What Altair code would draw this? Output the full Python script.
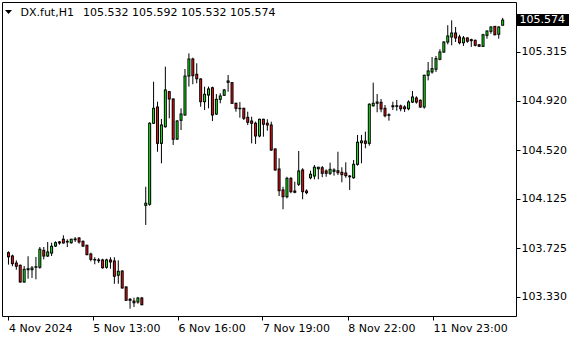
import altair as alt
import pandas as pd

# ---- candle data (H1 bars) ----
opens = [103.687, 103.660, 103.603, 103.585, 103.449, 103.549, 103.549, 103.569, 103.569, 103.706,
         103.660, 103.684, 103.741, 103.766, 103.796, 103.774, 103.768, 103.792, 103.806, 103.779,
         103.747, 103.676, 103.632, 103.628, 103.628, 103.569, 103.628, 103.620, 103.504, 103.538,
         103.409, 103.309, 103.295, 103.287, 103.319, 104.071, 104.080, 104.737, 104.869, 104.574,
         104.709, 104.993, 104.934, 104.609, 104.761, 104.804, 105.120, 105.258, 105.134, 105.096,
         104.912, 104.966, 105.025, 104.812, 104.931, 104.964, 105.069, 105.066, 104.899, 104.858,
         104.858, 104.785, 104.755, 104.737, 104.634, 104.769, 104.737, 104.723, 104.528, 104.366,
         104.196, 104.141, 104.290, 104.187, 104.242, 104.358, 104.187, 104.295, 104.309, 104.368,
         104.376, 104.350, 104.331, 104.347, 104.352, 104.339, 104.333, 104.309, 104.295, 104.404,
         104.579, 104.593, 104.574, 104.879, 104.899, 104.907, 104.858, 104.806, 104.871, 104.874,
         104.877, 104.869, 104.855, 104.909, 104.942, 104.923, 104.869, 105.126, 105.153, 105.175,
         105.256, 105.315, 105.396, 105.437, 105.469, 105.437, 105.390, 105.429, 105.407, 105.410,
         105.374, 105.361, 105.450, 105.483, 105.523, 105.459, 105.532]
highs = [103.698, 103.671, 103.625, 103.590, 103.579, 103.658, 103.579, 103.652, 103.733, 103.733,
         103.774, 103.768, 103.779, 103.782, 103.828, 103.796, 103.800, 103.814, 103.814, 103.787,
         103.752, 103.687, 103.650, 103.644, 103.638, 103.638, 103.650, 103.650, 103.625, 103.544,
         103.414, 103.319, 103.322, 103.328, 103.328, 104.222, 104.745, 105.074, 104.912, 104.772,
         105.196, 104.999, 104.939, 104.763, 104.858, 105.177, 105.304, 105.269, 105.223, 105.102,
         105.034, 105.034, 105.034, 104.974, 104.980, 105.015, 105.128, 105.072, 104.904, 104.909,
         104.863, 104.831, 104.790, 104.750, 104.774, 104.774, 104.769, 104.750, 104.534, 104.453,
         104.222, 104.303, 104.299, 104.263, 104.512, 104.372, 104.201, 104.352, 104.398, 104.384,
         104.390, 104.363, 104.417, 104.372, 104.506, 104.380, 104.420, 104.317, 104.439, 104.642,
         104.642, 104.669, 104.899, 105.066, 104.974, 104.934, 104.885, 104.818, 104.912, 104.926,
         104.888, 104.883, 104.923, 104.999, 104.956, 104.931, 105.131, 105.234, 105.274, 105.283,
         105.337, 105.402, 105.532, 105.572, 105.518, 105.455, 105.445, 105.434, 105.423, 105.415,
         105.380, 105.463, 105.491, 105.523, 105.526, 105.523, 105.592]
lows = [103.590, 103.577, 103.549, 103.444, 103.444, 103.476, 103.482, 103.471, 103.557, 103.633,
        103.652, 103.660, 103.733, 103.752, 103.760, 103.733, 103.760, 103.774, 103.760, 103.733,
        103.666, 103.617, 103.593, 103.603, 103.557, 103.557, 103.557, 103.435, 103.435, 103.395,
        103.295, 103.233, 103.246, 103.273, 103.260, 103.912, 104.068, 104.731, 104.506, 104.412,
        104.701, 104.777, 104.561, 104.601, 104.682, 104.798, 105.034, 105.053, 105.061, 104.871,
        104.844, 104.858, 104.755, 104.804, 104.899, 104.958, 104.993, 104.893, 104.831, 104.782,
        104.763, 104.723, 104.574, 104.569, 104.623, 104.628, 104.677, 104.512, 104.352, 104.147,
        104.039, 104.128, 104.169, 104.169, 104.228, 104.120, 104.161, 104.282, 104.282, 104.282,
        104.299, 104.303, 104.317, 104.312, 104.317, 104.258, 104.295, 104.196, 104.287, 104.393,
        104.412, 104.534, 104.555, 104.871, 104.826, 104.826, 104.785, 104.758, 104.844, 104.839,
        104.834, 104.828, 104.842, 104.901, 104.896, 104.861, 104.855, 105.085, 105.139, 105.153,
        105.248, 105.307, 105.377, 105.369, 105.396, 105.377, 105.364, 105.390, 105.356, 105.361,
        105.356, 105.356, 105.423, 105.463, 105.450, 105.423, 105.532]
closes = [103.654, 103.598, 103.577, 103.449, 103.552, 103.557, 103.563, 103.573, 103.715, 103.660,
          103.693, 103.739, 103.768, 103.774, 103.766, 103.779, 103.796, 103.798, 103.774, 103.741,
          103.671, 103.633, 103.628, 103.622, 103.565, 103.628, 103.612, 103.496, 103.536, 103.401,
          103.301, 103.301, 103.281, 103.319, 103.265, 104.088, 104.737, 104.858, 104.574, 104.723,
          105.007, 104.934, 104.607, 104.755, 104.812, 105.120, 105.258, 105.123, 105.098, 104.912,
          104.972, 105.015, 104.804, 104.931, 104.958, 105.007, 105.080, 104.899, 104.858, 104.855,
          104.777, 104.745, 104.737, 104.634, 104.769, 104.729, 104.723, 104.520, 104.358, 104.190,
          104.141, 104.290, 104.182, 104.177, 104.350, 104.182, 104.174, 104.323, 104.380, 104.380,
          104.331, 104.331, 104.363, 104.358, 104.336, 104.320, 104.312, 104.303, 104.404, 104.583,
          104.593, 104.574, 104.891, 104.899, 104.909, 104.853, 104.798, 104.801, 104.879, 104.879,
          104.855, 104.855, 104.909, 104.950, 104.909, 104.869, 105.126, 105.161, 105.180, 105.261,
          105.315, 105.396, 105.445, 105.469, 105.429, 105.390, 105.429, 105.402, 105.415, 105.369,
          105.361, 105.455, 105.485, 105.518, 105.455, 105.518, 105.574]

tick_bars = [0, 21.5, 43.25, 64.75, 86.5, 108.25]
tick_labels = ["4 Nov 2024", "5 Nov 13:00", "6 Nov 16:00", "7 Nov 19:00", "8 Nov 22:00", "11 Nov 23:00"]
price_ticks = [103.330, 103.725, 104.125, 104.520, 104.920, 105.315]
symbol = "DX.fut,H1"
last_ohlc = [105.532, 105.592, 105.532, 105.574]

FONT = "DejaVu Sans"
GREEN = "#11f011"
RED = "#f01111"

df = pd.DataFrame({"bar": list(range(len(opens))), "open": opens, "high": highs,
                   "low": lows, "close": closes})
df["top"] = df[["open", "close"]].max(axis=1)
df["bot"] = df[["open", "close"]].min(axis=1)
df["up"] = df["close"] >= df["open"]

xscale = alt.Scale(domain=[-0.375, 128.125], nice=False, zero=False)
yscale = alt.Scale(domain=[103.1734, 105.7206], nice=False, zero=False)

label_expr = " : ".join(
    f"abs(datum.value - {b}) < 0.01 ? '{l}'" for b, l in zip(tick_bars, tick_labels)
) + " : ''"

xaxis = alt.Axis(values=tick_bars, labelExpr=label_expr, tickSize=4, tickColor="black",
                 labelAlign="left", labelPadding=2, labelFont=FONT, labelFontSize=11,
                 labelColor="black", domain=False, grid=False, title=None,
                 labelOverlap=False, labelFlush=False)
yaxis = alt.Axis(orient="right", values=price_ticks, format=".3f", tickSize=4, tickColor="black",
                 labelFont=FONT, labelFontSize=11, labelColor="black", labelPadding=1,
                 domain=False, grid=False, title=None, labelOverlap=False, labelFlush=False)

X = alt.X("bar:Q", scale=xscale, axis=xaxis)

wicks = alt.Chart(df).mark_rule(color="black", strokeWidth=1).encode(
    x=X,
    y=alt.Y("low:Q", scale=yscale, axis=yaxis),
    y2="high:Q",
)

# black outline of each body (1px larger than the body on top and bottom)
outline = alt.Chart(df).mark_bar(width=3, color="black", yOffset=-0.5, y2Offset=0.5).encode(
    x=X,
    y=alt.Y("top:Q", scale=yscale, axis=yaxis),
    y2="bot:Q",
)

# coloured interior
fill = alt.Chart(df).transform_filter(
    "scale('y', datum.bot) - scale('y', datum.top) > 1.2"
).mark_bar(width=1, yOffset=0.5, y2Offset=-0.5).encode(
    x=X,
    y=alt.Y("top:Q", scale=yscale, axis=yaxis),
    y2="bot:Q",
    color=alt.condition("datum.up", alt.value(GREEN), alt.value(RED)),
)

price_df = pd.DataFrame({"price": [last_ohlc[3]], "label": [f"{last_ohlc[3]:.3f}"]})
price_box = alt.Chart(price_df).mark_tick(color="black", thickness=12, size=52, opacity=1,
                                          orient="horizontal").encode(
    y=alt.Y("price:Q", scale=yscale, axis=yaxis),
    x=alt.value(541),
)
price_text = alt.Chart(price_df).mark_text(align="left", baseline="middle", color="white",
                                           font=FONT, fontSize=11).encode(
    y=alt.Y("price:Q", scale=yscale, axis=yaxis),
    x=alt.value(517.5),
    text="label:N",
)

header_df = pd.DataFrame({"sym": [symbol],
                          "vals": [" ".join(f"{v:.3f}" for v in last_ohlc)]})
tri = alt.Chart(header_df).mark_point(shape="M-1,-0.6L1,-0.6L0,0.6Z", filled=True,
                                      color="black", size=49, opacity=1).encode(
    x=alt.value(6.5), y=alt.value(10))
sym_text = alt.Chart(header_df).mark_text(align="left", baseline="middle", color="black",
                                          font=FONT, fontSize=11).encode(
    x=alt.value(18.5), y=alt.value(10.5), text="sym:N")
val_text = alt.Chart(header_df).mark_text(align="left", baseline="middle", color="black",
                                          font=FONT, fontSize=11).encode(
    x=alt.value(81), y=alt.value(10.5), text="vals:N")

chart = alt.layer(wicks, outline, fill, price_box, price_text, tri, sym_text, val_text).properties(
    width=514, height=314,
    padding={"left": 2, "top": 2, "right": 64, "bottom": 24},
    autosize=alt.AutoSizeParams(type="none"),
    background="white",
).configure_view(stroke="black", strokeWidth=1, fill="white")

chart.save("out.html", embed_options={"renderer": "svg", "actions": False})
